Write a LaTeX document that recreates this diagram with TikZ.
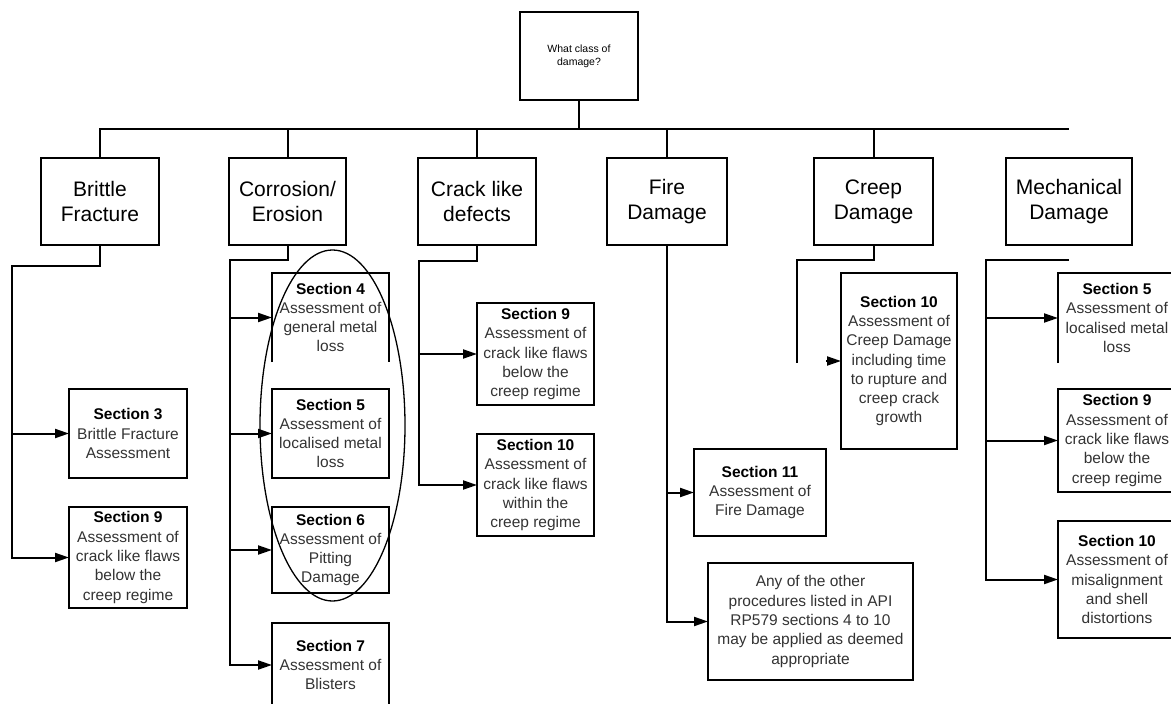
\documentclass[tikz,border=0pt]{standalone}
\usepackage{fontspec}
\setmainfont{Liberation Sans}
\usetikzlibrary{arrows.meta,shapes.geometric}
\newcommand\sechd[1]{\textcolor{black}{\bfseries #1}}
\begin{document}
\begin{tikzpicture}[x=1pt,y=-1pt,
  box/.style={draw, line width=1.3pt, inner sep=0pt, outer sep=0pt, align=center},
  cat/.style={box, font=\fontsize{21}{25}\selectfont, minimum height=87pt},
  sec/.style={box, text=black!80, font=\fontsize{15.5}{19.3}\selectfont},
  openbox/.style={sec, draw=none},
  conn/.style={line width=2pt},
  arr/.style={conn, -{Triangle[length=14pt,width=9pt]}},
  hl/.style={draw, ellipse, line width=1.3pt, inner sep=0pt}]
\useasboundingbox (0,0) rectangle (1171,704);
\clip (0,0) rectangle (1171,704);
\fill[white] (0,0) rectangle (1171,704);

% top
\node[box, minimum width=118pt, minimum height=88pt, font=\fontsize{10.5}{13}\selectfont] (top) at (579,56) {What class of\\damage?};

% categories
\node[cat, minimum width=118pt] (brittle) at (100,201.5) {Brittle\\Fracture};
\node[cat, minimum width=117pt] (corr) at (287.5,201.5) {Corrosion/\\Erosion};
\node[cat, minimum width=118pt] (crack) at (477,201.5) {Crack like\\defects};
\node[cat, minimum width=120pt] (fire) at (667,201.5) {Fire\\Damage};
\node[cat, minimum width=119pt] (creep) at (873.5,201.5) {Creep\\Damage};
\node[cat, minimum width=126pt] (mech) at (1069,201.5) {Mechanical\\Damage};

% bus
\coordinate (busR) at (1069,129);
\draw[conn] (brittle.north) |- (busR);
\draw[conn] (top.south) -- (top.south |- busR);
\draw[conn] (corr.north |- busR) -- (corr.north);
\draw[conn] (crack.north |- busR) -- (crack.north);
\draw[conn] (fire.north |- busR) -- (fire.north);
\draw[conn] (creep.north |- busR) -- (creep.north);

% brittle column
\node[sec, minimum width=118pt, minimum height=89pt] (s3) at (128,433.5) {\sechd{Section 3}\\Brittle Fracture\\Assessment};
\node[sec, minimum width=118pt, minimum height=101pt] (s9b) at (128,557.5) {\sechd{Section 9}\\Assessment of\\crack like flaws\\below the\\creep regime};
\coordinate (bb) at (12,266);
\draw[arr] (brittle.south) |- (bb) |- (s9b.west);
\draw[arr] (s3.west -| bb) -- (s3.west);

% corrosion column
\node[openbox, minimum width=117pt, minimum height=89pt] (s4) at (330.5,317.5) {\sechd{Section 4}\\Assessment of\\general metal\\loss};
\draw[line width=1.3pt] (s4.south west) -- (s4.north west) -- (s4.north east) -- (s4.south east);
\node[sec, minimum width=117pt, minimum height=89pt] (s5) at (330.5,433.5) {\sechd{Section 5}\\Assessment of\\localised metal\\loss};
\node[sec, minimum width=117pt, minimum height=86pt] (s6) at (330.5,550) {\sechd{Section 6}\\Assessment of\\Pitting\\Damage};
\node[sec, minimum width=117pt, minimum height=84pt] (s7) at (330.5,665) {\sechd{Section 7}\\Assessment of\\Blisters};
\coordinate (cb) at (230,260);
\draw[arr] (corr.south) |- (cb) |- (s7.west);
\draw[arr] (s4.west -| cb) -- (s4.west);
\draw[arr] (s5.west -| cb) -- (s5.west);
\draw[arr] (s6.west -| cb) -- (s6.west);
\node[hl, minimum width=145pt, minimum height=351pt] (ring) at (332.5,425.5) {};

% crack column
\node[sec, minimum width=117pt, minimum height=102pt] (cs9) at (535.5,354) {\sechd{Section 9}\\Assessment of\\crack like flaws\\below the\\creep regime};
\node[sec, minimum width=117pt, minimum height=102pt] (cs10) at (535.5,485) {\sechd{Section 10}\\Assessment of\\crack like flaws\\within the\\creep regime};
\coordinate (kb) at (419,261);
\draw[arr] (crack.south) |- (kb) |- (cs10.west);
\draw[arr] (cs9.west -| kb) -- (cs9.west);

% fire column
\node[sec, minimum width=132pt, minimum height=87pt] (s11) at (760,492.5) {\sechd{Section 11}\\Assessment of\\Fire Damage};
\node[sec, minimum width=205pt, minimum height=117pt] (any) at (810.5,621.5) {Any of the other\\procedures listed in API\\RP579 sections 4 to 10\\may be applied as deemed\\appropriate};
\draw[arr] (fire.south) |- (any.west);
\draw[arr] (s11.west -| fire.south) -- (s11.west);

% creep column
\node[sec, minimum width=116pt, minimum height=176pt] (crs10) at (899,361) {\sechd{Section 10}\\Assessment of\\Creep Damage\\including time\\to rupture and\\creep crack\\growth};
\coordinate (rb) at (797,260);
\coordinate (re) at (797,363);
\coordinate (rg) at (826,361);
\draw[conn] (creep.south) |- (rb) -- (re);
\draw[arr] (rg) -- (crs10.west);

% mechanical column
\node[openbox, minimum width=118pt, minimum height=90pt] (ms5) at (1117,318) {\sechd{Section 5}\\Assessment of\\localised metal\\loss};
\draw[line width=1.3pt] (ms5.south west) -- (ms5.north west) -- (ms5.north east) -- (ms5.south east);
\node[sec, minimum width=118pt, minimum height=103pt] (ms9) at (1117,440.5) {\sechd{Section 9}\\Assessment of\\crack like flaws\\below the\\creep regime};
\node[sec, minimum width=118pt, minimum height=117pt] (ms10) at (1117,579.5) {\sechd{Section 10}\\Assessment of\\misalignment\\and shell\\distortions};
\coordinate (mt) at (1069,260);
\coordinate (mb) at (986,260);
\draw[arr] (mt) -- (mb) |- (ms10.west);
\draw[arr] (ms5.west -| mb) -- (ms5.west);
\draw[arr] (ms9.west -| mb) -- (ms9.west);
\end{tikzpicture}
\end{document}
